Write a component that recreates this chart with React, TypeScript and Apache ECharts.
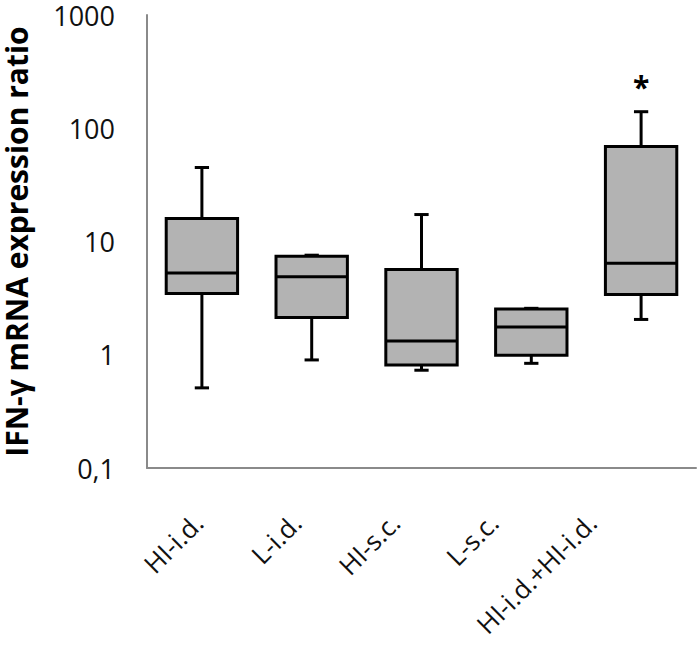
import React, { useEffect, useRef } from "react";
import * as echarts from "echarts";

const categories = ["HI-i.d.", "L-i.d.", "HI-s.c.", "L-s.c.", "HI-i.d.+HI-i.d."];
const whiskerLow = [0.51, 0.9, 0.73, 0.84, 2.05];
const q1 = [3.48, 2.13, 0.81, 0.99, 3.41];
const median = [5.26, 4.89, 1.32, 1.76, 6.44];
const q3 = [16, 7.4, 5.67, 2.53, 69];
const whiskerHigh = [45, 7.57, 17.3, 2.57, 140];
const significance = ["", "", "", "", "*"];
const yMin = 0.1;
const yMax = 1000;

const FONT = "'Open Sans', 'Noto Sans', sans-serif";

export default function App() {
  const ref = useRef<HTMLDivElement>(null);
  useEffect(() => {
    document.body.style.margin = "0";
    const chart = echarts.init(ref.current!, null, { renderer: "svg" });
    const data = categories.map((_, i) => [i, whiskerLow[i], q1[i], median[i], q3[i], whiskerHigh[i]]);
    chart.setOption({
      animation: false,
      backgroundColor: "#ffffff",
      grid: [
        { left: 147, right: 4, top: 15, bottom: 181, containLabel: false, outerBoundsMode: "none" },
        // label strip: the reference's rotated category labels sit on a tighter pitch
        { left: 149, right: 59, top: 15, bottom: 181, containLabel: false, outerBoundsMode: "none" },
      ],
      xAxis: [
        {
          type: "category",
          gridIndex: 0,
          data: categories,
          boundaryGap: true,
          axisLine: { show: true, lineStyle: { color: "#8a8a8a", width: 2 } },
          axisTick: { show: false },
          axisLabel: { show: false },
          splitLine: { show: false },
        },
        {
          type: "category",
          gridIndex: 1,
          data: categories,
          boundaryGap: true,
          axisLine: { show: false },
          axisTick: { show: false },
          axisLabel: {
            rotate: 45,
            fontSize: 26,
            fontFamily: FONT,
            color: "#111",
            margin: 50,
            interval: 0,
          },
          splitLine: { show: false },
        },
      ],
      yAxis: [
        {
          type: "log",
          gridIndex: 0,
          logBase: 10,
          min: yMin,
          max: yMax,
          axisLine: { show: true, lineStyle: { color: "#8a8a8a", width: 2 } },
          axisTick: { show: false },
          splitLine: { show: false },
          axisLabel: {
            fontSize: 27,
            fontFamily: FONT,
            color: "#111",
            margin: 32,
            formatter: (v: number) => String(v).replace(".", ","),
          },
          name: "IFN-γ mRNA expression ratio",
          nameLocation: "middle",
          nameGap: 116,
          nameTextStyle: { fontSize: 30, lineHeight: 30, fontWeight: "bold", fontFamily: FONT, color: "#000" },
        },
        {
          type: "value",
          gridIndex: 1,
          show: false,
          min: 0,
          max: 1,
        },
      ],
      series: [
        {
          type: "custom",
          xAxisIndex: 0,
          yAxisIndex: 0,
          encode: { x: 0, y: [1, 2, 3, 4, 5] },
          data,
          renderItem: (params: any, api: any) => {
            const i = api.value(0);
            const lo = api.coord([i, api.value(1)]);
            const b1 = api.coord([i, api.value(2)]);
            const md = api.coord([i, api.value(3)]);
            const b3 = api.coord([i, api.value(4)]);
            const hi = api.coord([i, api.value(5)]);
            const band = params.coordSys.width / categories.length;
            const cx = lo[0];
            const boxW = band * 0.65;
            const capW = band * 0.13;
            const lineStyle = { stroke: "#000", lineWidth: 3 };
            const children: any[] = [
              { type: "line", shape: { x1: cx, y1: hi[1], x2: cx, y2: b3[1] }, style: lineStyle },
              { type: "line", shape: { x1: cx, y1: b1[1], x2: cx, y2: lo[1] }, style: lineStyle },
              { type: "line", shape: { x1: cx - capW / 2, y1: hi[1], x2: cx + capW / 2, y2: hi[1] }, style: lineStyle },
              { type: "line", shape: { x1: cx - capW / 2, y1: lo[1], x2: cx + capW / 2, y2: lo[1] }, style: lineStyle },
              {
                type: "rect",
                shape: { x: cx - boxW / 2, y: b3[1], width: boxW, height: b1[1] - b3[1] },
                style: { fill: "#b3b3b3", stroke: "#000", lineWidth: 3 },
              },
              { type: "line", shape: { x1: cx - boxW / 2, y1: md[1], x2: cx + boxW / 2, y2: md[1] }, style: lineStyle },
            ];
            const sig = significance[i];
            if (sig) {
              children.push({
                type: "text",
                x: cx,
                y: hi[1] - 25,
                style: {
                  text: sig,
                  fontSize: 30,
                  fontWeight: "bold",
                  fontFamily: FONT,
                  fill: "#000",
                  align: "center",
                  verticalAlign: "middle",
                },
              });
            }
            return { type: "group", children };
          },
        },
        {
          type: "scatter",
          xAxisIndex: 1,
          yAxisIndex: 1,
          data: [],
          silent: true,
        },
      ],
    });
    return () => chart.dispose();
  }, []);
  return <div ref={ref} style={{ width: 700, height: 649 }} />;
}
